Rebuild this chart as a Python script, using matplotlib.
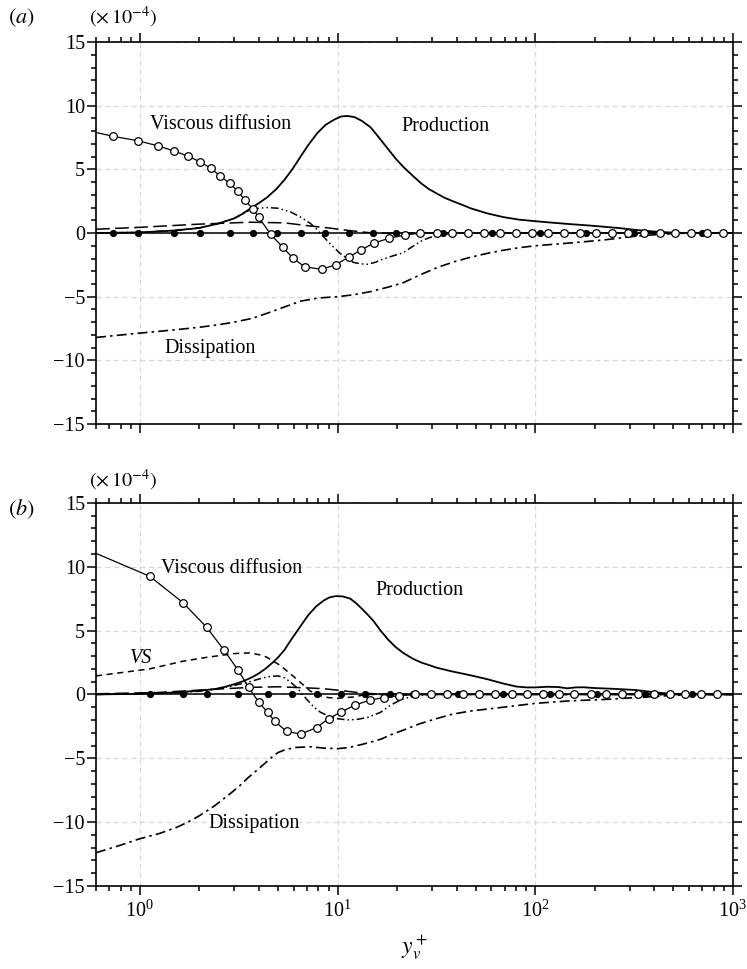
import numpy as np
import matplotlib
matplotlib.use('Agg')
import matplotlib.pyplot as plt
from matplotlib.ticker import MultipleLocator, LogLocator, NullFormatter

plt.rcParams['font.family'] = 'serif'
plt.rcParams['font.serif'] = ['Liberation Serif', 'DejaVu Serif']
plt.rcParams['mathtext.fontset'] = 'stix'

# ---- panel (a) ----
prod_a_x = [0.6, 1.0, 1.5, 2.0, 2.5, 3.0, 3.3, 3.6, 4.0, 4.4, 4.9, 5.4, 5.9, 6.5, 7.1, 7.9, 8.7, 9.6,
            10.4, 11.2, 12.2, 13.3, 14.7, 16.2, 18, 19.8, 21.5, 24, 26.5, 29, 31.8, 35, 39, 43, 47,
            57, 69, 83, 100, 125, 150, 185, 220, 270, 320, 390, 470, 600, 1000]
prod_a_y = [0.0, 0.05, 0.2, 0.4, 0.75, 1.15, 1.5, 1.9, 2.35, 2.8, 3.45, 4.2, 5.0, 6.0, 6.9, 7.85, 8.5,
            8.9, 9.15, 9.2, 9.1, 8.8, 8.3, 7.5, 6.6, 5.8, 5.2, 4.5, 3.9, 3.45, 3.1, 2.75, 2.45, 2.2,
            1.95, 1.55, 1.25, 1.05, 0.93, 0.8, 0.7, 0.6, 0.5, 0.38, 0.25, 0.13, 0.05, 0.0, 0.0]

diss_a_x = [0.6, 1.0, 1.5, 2.0, 2.5, 3.0, 3.7, 4.4, 5.4, 6.5, 8.0, 10, 12, 14.7, 18, 21.5, 26, 32, 39,
            47, 57, 69, 83, 100, 150, 220, 320, 450, 600, 1000]
diss_a_y = [-8.2, -7.86, -7.6, -7.4, -7.2, -7.0, -6.7, -6.3, -5.8, -5.35, -5.1, -5.0, -4.85, -4.6,
            -4.25, -3.9, -3.3, -2.7, -2.25, -1.9, -1.6, -1.35, -1.15, -1.0, -0.78, -0.55, -0.25,
            -0.08, 0.0, 0.0]

visc_a_x = [0.6, 0.731, 0.977, 1.233, 1.485, 1.747, 2.009, 2.284, 2.536, 2.849, 3.126, 3.392, 3.722,
            3.990, 4.587, 5.275, 5.926, 6.813, 8.303, 9.770, 11.36, 13.07, 15.20, 18.31, 22.05,
            26.26, 32.0, 38.1, 45.9, 55.3, 66.6, 80.2, 96.6, 116.3, 140.1, 168.8, 203.3, 244.9,
            294.9, 355.2, 427.9, 509.5, 613.7, 739.0, 890.2]
visc_a_y = [7.9, 7.6, 7.25, 6.85, 6.45, 6.05, 5.6, 5.1, 4.5, 3.9, 3.3, 2.6, 1.9,
            1.25, -0.1, -1.1, -1.95, -2.65, -2.85, -2.5, -1.9, -1.35, -0.8, -0.4, -0.15,
            0, 0, 0, 0, 0, 0, 0, 0, 0, 0, 0, 0, 0,
            0, 0, 0, 0, 0, 0, 0]

fill_a_x = [0.6, 0.731, 0.977, 1.485, 2.009, 2.849, 3.722, 4.92, 6.50, 8.60, 11.36, 15.03, 19.86,
            34.3, 60.7, 106.0, 181.0, 316.2, 697.5, 1000]
fill_a_y = [0.0] * len(fill_a_x)

tdd_a_x = [0.6, 1.0, 1.5, 2.0, 2.5, 3.0, 3.3, 3.6, 4.0, 4.4, 5.0, 5.8, 6.5, 7.3, 7.9, 8.5, 9.4, 10.3,
           11.2, 12.0, 13.1, 14.2, 15.5, 17.0, 19, 21.5, 24, 27, 32, 40, 1000]
tdd_a_y = [0.0, 0.05, 0.2, 0.4, 0.75, 1.15, 1.5, 1.8, 1.95, 2.0, 1.95, 1.65, 1.25, 0.75, 0.25, -0.3,
           -1.0, -1.6, -2.0, -2.3, -2.42, -2.45, -2.3, -2.05, -1.8, -1.55, -1.05, -0.55, -0.15,
           0.0, 0.0]

ld_a_x = [0.6, 1.0, 2.0, 3.6, 5.4, 7.3, 9.0, 11.4, 15, 1000]
ld_a_y = [0.3, 0.45, 0.7, 0.85, 0.8, 0.55, 0.4, 0.2, 0.0, 0.0]

# ---- panel (b) ----
prod_b_x = [0.6, 1.0, 1.5, 2.0, 2.4, 2.7, 3.0, 3.35, 3.7, 4.0, 4.35, 4.7, 5.0, 5.4, 5.8, 6.4, 7.1,
            7.8, 8.5, 9.1, 9.8, 10.6, 11.6, 12.4, 13.2, 14.2, 15.2, 16.5, 18, 19.7, 21.5, 24, 26.5,
            29, 31.6, 38, 47, 57, 69, 80, 90, 100, 115, 130, 145, 160, 175, 200, 240, 320, 410,
            500, 1000]
prod_b_y = [0.0, 0.05, 0.15, 0.3, 0.42, 0.6, 0.8, 1.05, 1.35, 1.65, 2.05, 2.5, 2.9, 3.5, 4.25, 5.2,
            6.2, 6.9, 7.35, 7.6, 7.7, 7.68, 7.5, 7.15, 6.75, 6.25, 5.75, 5.0, 4.3, 3.7, 3.25, 2.8,
            2.5, 2.3, 2.1, 1.8, 1.5, 1.2, 0.85, 0.62, 0.55, 0.55, 0.6, 0.58, 0.48, 0.55, 0.56,
            0.5, 0.45, 0.35, 0.15, 0.03, 0.0]

diss_b_x = [0.6, 0.8, 1.0, 1.25, 1.54, 1.75, 2.0, 2.4, 2.85, 3.2, 3.54, 4.0, 4.4, 4.7, 5.0, 5.5, 6.2,
            7.3, 8.5, 10, 11.5, 13.4, 15, 16.6, 19, 21.5, 26, 31.6, 38, 47, 69, 100, 150, 220,
            320, 470, 650, 1000]
diss_b_y = [-12.4, -11.8, -11.3, -10.9, -10.4, -10.0, -9.5, -8.7, -7.8, -7.15, -6.5, -5.8, -5.25,
            -4.85, -4.55, -4.3, -4.15, -4.1, -4.2, -4.25, -4.15, -3.9, -3.7, -3.5, -3.1, -2.8,
            -2.3, -1.9, -1.55, -1.3, -1.0, -0.7, -0.5, -0.4, -0.25, -0.1, 0.0, 0.0]

visc_b_x = [0.6, 1.123, 1.649, 2.180, 2.656, 3.126, 3.553, 3.990, 4.431, 4.806, 5.526, 6.504, 7.832,
            9.006, 10.36, 12.19, 14.51, 17.08, 20.56, 24.77, 29.84, 35.94, 43.29, 52.15, 62.81,
            76.54, 91.1, 109.7, 132.2, 157.4, 191.8, 228.4, 275.0, 331.3, 399.0, 480.6, 572.4,
            689.3, 830.3]
visc_b_y = [11.05, 9.25, 7.2, 5.25, 3.5, 1.95, 0.55, -0.6, -1.4, -2.1, -2.9, -3.1, -2.6,
            -1.9, -1.4, -0.85, -0.45, -0.25, -0.1, 0, 0, 0, 0, 0, 0,
            0, 0, 0, 0, 0, 0, 0, 0, 0, 0, 0, 0,
            0, 0]

fill_b_x = [0.6, 1.123, 1.649, 2.180, 3.126, 4.431, 5.857, 7.832, 10.36, 13.69, 18.52, 24.20,
            40.83, 68.93, 119.1, 205.6, 359.4, 620.8, 1000]
fill_b_y = [0.0] * len(fill_b_x)

tdd_b_x = [0.6, 1.0, 1.5, 2.0, 2.5, 3.0, 3.6, 4.2, 4.6, 5.0, 5.4, 5.8, 6.2, 6.5, 7.0, 7.6, 8.2, 8.9,
           10, 11.2, 12.6, 14.2, 16.5, 18.5, 21, 24, 30, 1000]
tdd_b_y = [0.0, 0.05, 0.12, 0.25, 0.45, 0.7, 1.0, 1.3, 1.42, 1.45, 1.3, 0.95, 0.55, 0.2, -0.4, -1.0,
           -1.4, -1.65, -1.9, -2.0, -1.95, -1.8, -1.4, -0.85, -0.4, -0.15, 0.0, 0.0]

ld_b_x = [0.6, 1.23, 1.8, 2.7, 3.6, 5.0, 7.3, 8.5, 10.5, 12.6, 16, 20, 1000]
ld_b_y = [0.05, 0.15, 0.3, 0.45, 0.55, 0.6, 0.5, 0.45, 0.3, 0.15, 0.03, 0.0, 0.0]

vs_x = [0.6, 1.12, 1.65, 2.17, 2.7, 3.0, 3.6, 4.2, 4.4, 5.1, 6.0, 6.7, 7.3, 8.2, 9.0, 10, 12, 14, 1000]
vs_y = [1.45, 2.0, 2.6, 2.9, 3.1, 3.2, 3.25, 3.05, 2.9, 2.3, 1.4, 0.75, 0.25, -0.1, -0.25, -0.3,
        -0.2, 0.0, 0.0]


fig = plt.figure(figsize=(7.47, 9.69), dpi=100)
ax1 = fig.add_axes([0.1285, 0.5624, 0.8527, 0.3942])
ax2 = fig.add_axes([0.1285, 0.0857, 0.8527, 0.3953])

fs = 14.5
dashdot = (0, (6, 2.5, 1.5, 2.5))
dashdotdot = (0, (5, 2, 1, 2, 1, 2))
longdash = (0, (9, 3.5))


def draw(ax, prod, diss, visc, fill, tdd, ld):
    ax.plot(fill[0], fill[1], '-', color='k', lw=1.1, marker='o', ms=4.2, mfc='k', mec='k',
            markevery=slice(1, -1), zorder=3)
    ax.plot(ld[0], ld[1], color='k', lw=1.1, ls=longdash, zorder=3)
    ax.plot(tdd[0], tdd[1], color='k', lw=1.1, ls=dashdotdot, zorder=3)
    ax.plot(diss[0], diss[1], color='k', lw=1.2, ls=dashdot, zorder=3)
    ax.plot(prod[0], prod[1], color='k', lw=1.3, zorder=3)
    ax.plot(visc[0], visc[1], '-', color='k', lw=0.9, marker='o', ms=5.5, mfc='white', mec='k',
            mew=0.9, markevery=slice(1, None), zorder=4)


def style(ax):
    ax.set_xscale('log')
    ax.set_xlim(0.6, 1000)
    ax.set_ylim(-15, 15)
    ax.yaxis.set_major_locator(MultipleLocator(5))
    ax.yaxis.set_minor_locator(MultipleLocator(1))
    ax.xaxis.set_major_locator(LogLocator(base=10, numticks=10))
    ax.xaxis.set_minor_locator(LogLocator(base=10, subs=np.arange(2, 10), numticks=20))
    ax.xaxis.set_minor_formatter(NullFormatter())
    ax.tick_params(which='both', direction='out', top=True, right=True, width=1.1,
                   labelsize=fs, colors='k')
    ax.tick_params(which='major', length=6.5)
    ax.tick_params(which='minor', length=3.6)
    ax.tick_params(axis='y', pad=1.5)
    ax.tick_params(axis='x', pad=4)
    ax.grid(True, which='major', color='#d8d8d8', ls=(0, (4, 3)), lw=0.9)
    ax.set_axisbelow(True)
    for s in ax.spines.values():
        s.set_linewidth(1.2)


draw(ax1, (prod_a_x, prod_a_y), (diss_a_x, diss_a_y), (visc_a_x, visc_a_y),
     (fill_a_x, fill_a_y), (tdd_a_x, tdd_a_y), (ld_a_x, ld_a_y))
draw(ax2, (prod_b_x, prod_b_y), (diss_b_x, diss_b_y), (visc_b_x, visc_b_y),
     (fill_b_x, fill_b_y), (tdd_b_x, tdd_b_y), (ld_b_x, ld_b_y))
ax2.plot(vs_x, vs_y, color='k', lw=1.1, ls=(0, (4, 3)), zorder=3)

style(ax1)
style(ax2)
ax1.tick_params(axis='x', labelbottom=False)

# curve labels
ax1.text(2.57, 8.56, 'Viscous diffusion', fontsize=fs, ha='center', va='center')
ax1.text(35.1, 8.33, 'Production', fontsize=fs, ha='center', va='center')
ax1.text(2.26, -9.1, 'Dissipation', fontsize=fs, ha='center', va='center')
ax2.text(2.92, 9.87, 'Viscous diffusion', fontsize=fs, ha='center', va='center')
ax2.text(25.9, 8.14, 'Production', fontsize=fs, ha='center', va='center')
ax2.text(3.77, -10.1, 'Dissipation', fontsize=fs, ha='center', va='center')
ax2.text(1.02, 2.8, 'VS', fontsize=fs, ha='center', va='center', style='italic')

# panel tags and scale factors
fig.text(21 / 747, 1 - 18 / 969, r'$(a)$', fontsize=16, ha='center', va='center')
fig.text(123 / 747, 1 - 17 / 969, r'$(\times\,10^{-4})$', fontsize=fs, ha='center', va='center')
fig.text(21 / 747, 1 - 509 / 969, r'$(b)$', fontsize=16, ha='center', va='center')
fig.text(123 / 747, 1 - 480 / 969, r'$(\times\,10^{-4})$', fontsize=fs, ha='center', va='center')
fig.text(415 / 747, 1 - 948 / 969, r'$y_v^+$', fontsize=17, ha='center', va='center')

fig.savefig('out.png', dpi=100)
